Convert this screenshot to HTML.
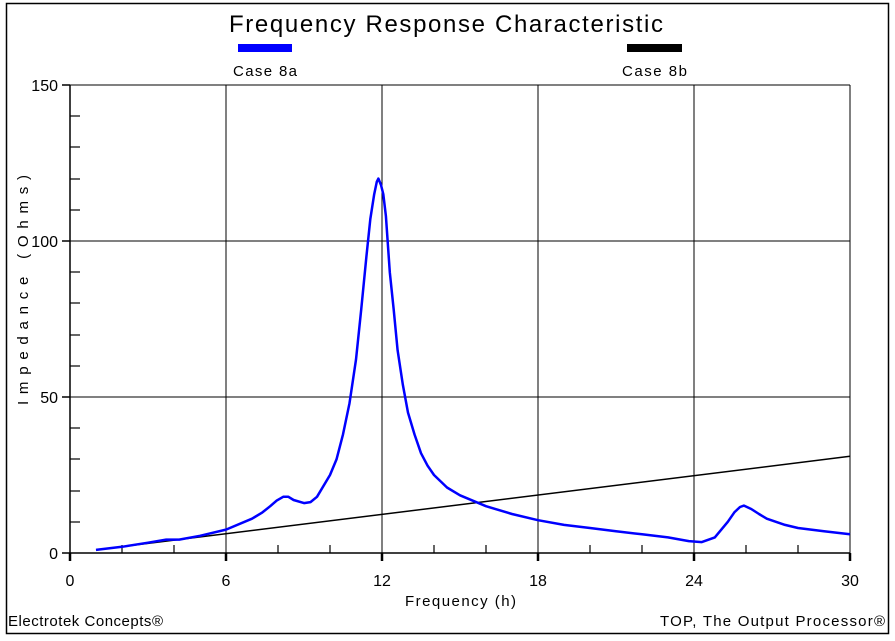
<!DOCTYPE html>
<html><head><meta charset="utf-8"><style>
html,body{margin:0;padding:0;background:#fff;}
svg{display:block;font-family:"Liberation Sans",Arial,sans-serif;}
</style></head><body>
<svg width="895" height="641" viewBox="0 0 895 641" xmlns="http://www.w3.org/2000/svg">
<rect x="0" y="0" width="895" height="641" fill="#fff"/>
<rect x="6.5" y="3.5" width="882" height="630" fill="none" stroke="#000" stroke-width="1.5"/>
<text x="229" y="32" font-size="24" textLength="434" lengthAdjust="spacing">Frequency Response Characteristic</text>
<rect x="238" y="44" width="54" height="8" fill="#0000ff"/>
<text x="233" y="76" font-size="15" textLength="64" lengthAdjust="spacing">Case 8a</text>
<rect x="627" y="44" width="55" height="8" fill="#000"/>
<text x="622" y="76" font-size="15" textLength="65" lengthAdjust="spacing">Case 8b</text>
<g stroke="#000" stroke-width="1">
<line x1="226" y1="85" x2="226" y2="553"/>
<line x1="382" y1="85" x2="382" y2="553"/>
<line x1="538" y1="85" x2="538" y2="553"/>
<line x1="694" y1="85" x2="694" y2="553"/>
<line x1="850" y1="85" x2="850" y2="553"/>
<line x1="70" y1="85" x2="850" y2="85"/>
<line x1="70" y1="241" x2="850" y2="241"/>
<line x1="70" y1="397" x2="850" y2="397"/>
</g>
<g stroke="#000" stroke-width="1.2">
<line x1="122" y1="553" x2="122" y2="545"/><line x1="174" y1="553" x2="174" y2="545"/>
<line x1="278" y1="553" x2="278" y2="545"/><line x1="330" y1="553" x2="330" y2="545"/>
<line x1="434" y1="553" x2="434" y2="545"/><line x1="486" y1="553" x2="486" y2="545"/>
<line x1="590" y1="553" x2="590" y2="545"/><line x1="642" y1="553" x2="642" y2="545"/>
<line x1="746" y1="553" x2="746" y2="545"/><line x1="798" y1="553" x2="798" y2="545"/>
<line x1="70" y1="522" x2="80" y2="522"/><line x1="70" y1="491" x2="80" y2="491"/><line x1="70" y1="459" x2="80" y2="459"/><line x1="70" y1="428" x2="80" y2="428"/>
<line x1="70" y1="366" x2="80" y2="366"/><line x1="70" y1="335" x2="80" y2="335"/><line x1="70" y1="303" x2="80" y2="303"/><line x1="70" y1="272" x2="80" y2="272"/>
<line x1="70" y1="210" x2="80" y2="210"/><line x1="70" y1="179" x2="80" y2="179"/><line x1="70" y1="147" x2="80" y2="147"/><line x1="70" y1="116" x2="80" y2="116"/>
</g>
<g stroke="#000" stroke-width="1.5">
<line x1="70" y1="85" x2="70" y2="561"/>
<line x1="62" y1="553" x2="850" y2="553"/>
<line x1="62" y1="85" x2="70" y2="85"/><line x1="62" y1="241" x2="70" y2="241"/><line x1="62" y1="397" x2="70" y2="397"/>
</g>
<g stroke="#000" stroke-width="2.5">
<line x1="70" y1="553" x2="70" y2="561"/>
<line x1="226" y1="553" x2="226" y2="561"/><line x1="382" y1="553" x2="382" y2="561"/>
<line x1="538" y1="553" x2="538" y2="561"/><line x1="694" y1="553" x2="694" y2="561"/>
<line x1="850" y1="553" x2="850" y2="561"/>
</g>
<g font-size="16" text-anchor="end">
<text x="58" y="91">150</text><text x="58" y="247">100</text><text x="58" y="403">50</text><text x="58" y="559">0</text>
</g>
<g font-size="16" text-anchor="middle">
<text x="70" y="586">0</text><text x="226" y="586">6</text><text x="382" y="586">12</text><text x="538" y="586">18</text><text x="694" y="586">24</text><text x="850" y="586">30</text>
</g>
<text x="405" y="606" font-size="15" textLength="111" lengthAdjust="spacing">Frequency (h)</text>
<text transform="translate(28,405) rotate(-90)" font-size="15" textLength="230" lengthAdjust="spacing">Impedance (Ohms)</text>
<text x="8" y="626" font-size="15" textLength="155" lengthAdjust="spacing">Electrotek Concepts®</text>
<text x="660" y="626" font-size="15" textLength="225" lengthAdjust="spacing">TOP, The Output Processor®</text>
<line x1="96" y1="549.9" x2="850" y2="456.3" stroke="#000" stroke-width="1.5"/>
<polyline fill="none" stroke="#0000ff" stroke-width="2.5" stroke-linejoin="round" points="96,549.9 122,546.8 148,542.7 166.2,539.6 179.2,539.6 200,535.8 226,529.6 252,518.7 262.4,512.4 270.2,506.2 276.7,500.6 283.2,496.8 288.4,496.8 293.6,500 304,503.1 310.5,502.1 317,496.8 330,475 336.5,459.4 343,434.4 349.5,403.2 356,359.6 361.2,309.6 366.4,256.6 370.3,219.2 374.2,194.2 376.8,181.7 378.4,178.6 381,185 383.3,194.2 385.9,216 389.8,272.2 393.7,309.6 397.6,350.2 402.8,384.5 408,412.6 414.5,434.4 421,453.2 427.5,465.6 434,475 447,487.5 460,495.3 486,506.2 512,514 538,520.2 564,524.9 590,528 616,531.2 642,534.3 668,537.4 688.8,541.1 701.8,542.1 714.8,537.4 727.8,521.8 734.3,512.4 740,507 744,505.6 751.2,509 759,514 766.8,518.7 785,524.9 798,528 824,531.2 850,534.3"/>
</svg>
</body></html>
